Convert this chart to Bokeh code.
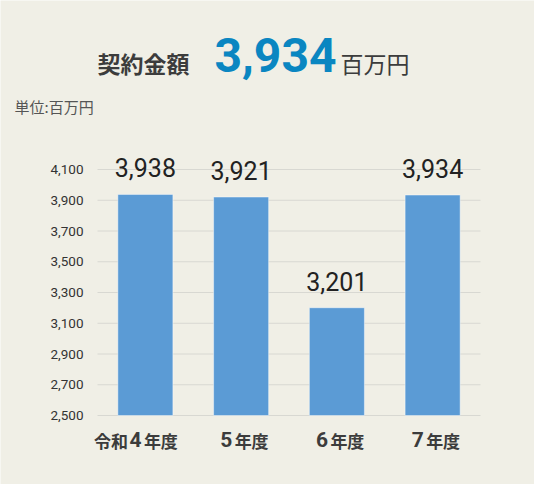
from bokeh.plotting import figure
from bokeh.models import Range1d, ColumnDataSource
from bokeh.core.properties import value
from bokeh.embed import file_html
from bokeh.resources import INLINE

# ---- data ----
prefixes = ["令和", "", "", ""]
years = ["4", "5", "6", "7"]
suffix = "年度"
amounts = [3938, 3921, 3201, 3934]
value_labels = ["3,938", "3,921", "3,201", "3,934"]
y_ticks = [2500, 2700, 2900, 3100, 3300, 3500, 3700, 3900, 4100]
y_tick_labels = ["2,500", "2,700", "2,900", "3,100", "3,300", "3,500", "3,700", "3,900", "4,100"]
title_main = "契約金額"
title_value = "3,934"
title_unit = "百万円"
unit_note = "単位:百万円"

BG = "#f0efe6"
BAR = "#5b9bd5"
DARK = "#3c3c3c"
JP = "Noto Sans CJK JP"
NUM = "Roboto"

W, H = 534, 484
# plot area in page pixels: x 105..488 -> 0..4 ; y 423 -> 2500, 0.15375 px per unit
PX_X = (488 - 105) / 4
PXU = 0.15375
X_START = -(105 - 8) / PX_X
X_END = 4 + (8 + W - 488) / PX_X
Y_START = 2500 - (8 + H - 423) / PXU
Y_END = 2500 + (423 - 8) / PXU

def dx(px):
    return (px - 105) / PX_X

def dy(py):
    return 2500 + (423 - py) / PXU

p = figure(width=W, height=H, output_backend="svg", toolbar_location=None,
           x_range=Range1d(X_START, X_END), y_range=Range1d(Y_START, Y_END),
           min_border=0, x_axis_location=None, y_axis_location=None)
p.background_fill_color = BG
p.border_fill_color = BG
p.outline_line_color = None
p.grid.visible = False

# grid lines
p.segment(x0=0, x1=4, y0=y_ticks, y1=y_ticks, line_color="#d8d8d2", line_width=1)

# y tick labels
p.text(x=dx(91), y=y_ticks, text=y_tick_labels, text_align="right",
       text_baseline="middle", text_font=value(NUM), text_font_size="13.5px",
       text_color="#333333")

xs = [i + 0.5 for i in range(len(amounts))]
src = ColumnDataSource(dict(x=xs, top=amounts, lab=value_labels))
p.vbar(x="x", top="top", bottom=2500, width=0.575, source=src,
       fill_color=BAR, line_color="#ffffff", line_alpha=0.45, line_width=1)
p.text(x="x", y="top", text="lab", source=src, y_offset=-26.5,
       text_align="center", text_baseline="middle",
       text_font=value(NUM), text_font_size="25px", text_color="#222222")

# category labels
dig_off = [-16 if pre else -21 for pre in prefixes]
p.text(x=xs, y=dy(446.5), text=years, x_offset=dig_off, text_align="left",
       text_baseline="middle", text_font=value(NUM), text_font_size="21px",
       text_font_style="bold", text_color=DARK)
p.text(x=xs, y=dy(447.5), text=[suffix] * len(xs), x_offset=[o + 14.5 for o in dig_off],
       text_align="left", text_baseline="middle", text_font=value(JP),
       text_font_size="17px", text_font_style="bold", text_color=DARK)
pre_x = [x for x, pre in zip(xs, prefixes) if pre]
pre_t = [pre for pre in prefixes if pre]
pre_o = [o - 1.5 for o, pre in zip(dig_off, prefixes) if pre]
p.text(x=pre_x, y=dy(447.5), text=pre_t, x_offset=pre_o, text_align="right",
       text_baseline="middle", text_font=value(JP), text_font_size="17px",
       text_font_style="bold", text_color=DARK)

# title
p.text(x=[dx(105)], y=[dy(70.5)], text=[title_main], text_align="left",
       text_baseline="middle", text_font=value(JP), text_font_size="23px",
       text_font_style="bold", text_color=DARK)
p.text(x=[dx(222)], y=[dy(62)], text=[title_value], text_align="left",
       text_baseline="middle", text_font=value(NUM), text_font_size="48px",
       text_font_style="bold", text_color="#0a86c1")
p.text(x=[dx(348)], y=[dy(70.5)], text=[title_unit], text_align="left",
       text_baseline="middle", text_font=value(JP), text_font_size="23px",
       text_color=DARK)
p.text(x=[dx(22)], y=[dy(114)], text=[unit_note], text_align="left",
       text_baseline="middle", text_font=value(JP), text_font_size="15px",
       text_color="#555555")

html = file_html(p, INLINE)
html = html.replace("<body>", '<body style="background:%s">' % BG, 1)
open("out.html", "w").write(html)
